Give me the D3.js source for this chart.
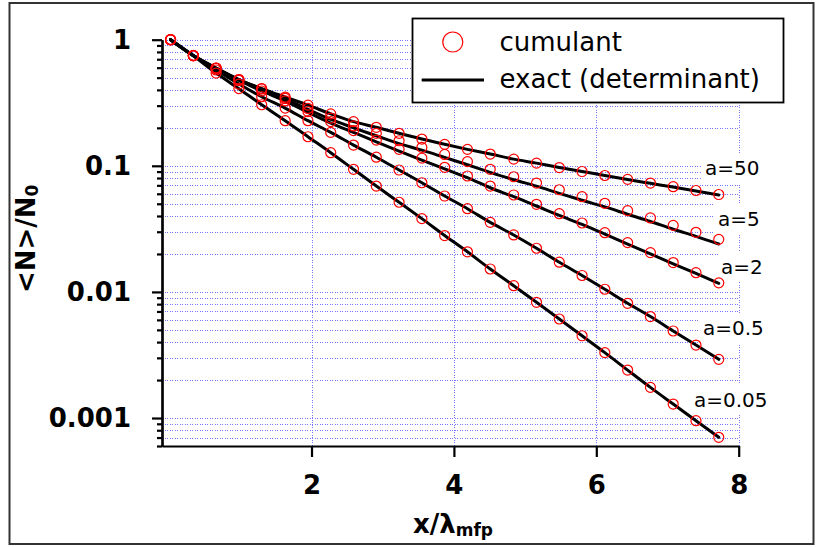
<!DOCTYPE html>
<html>
<head>
<meta charset="utf-8">
<script src="https://cdn.jsdelivr.net/npm/d3@7"></script>
<style>
  html, body { margin: 0; padding: 0; background: #fff; }
  svg { display: block; font-family: "DejaVu Sans", Verdana, sans-serif; }
</style>
</head>
<body>
<svg id="chart" width="816" height="547"></svg>
<script>
// Distance in units of the mean free path
const xs = [0.02, 0.34, 0.66, 0.98, 1.30, 1.63, 1.95, 2.27, 2.59, 2.91, 3.23, 3.55, 3.87,
            4.19, 4.51, 4.84, 5.16, 5.48, 5.80, 6.12, 6.44, 6.76, 7.08, 7.40, 7.72];

// Series names (parameter a)
const seriesNames = ["a=50", "a=5", "a=2", "a=0.5", "a=0.05"];

// <N>/N0 from the cumulant expansion
const cumA50  = [1, 0.750, 0.596, 0.483, 0.410, 0.351, 0.303, 0.258, 0.224, 0.202, 0.181, 0.163, 0.148,
                 0.135, 0.124, 0.113, 0.105, 0.0969, 0.0901, 0.0838, 0.0781, 0.0730, 0.0683, 0.0637, 0.0592];
const cumA5   = [1, 0.749, 0.596, 0.483, 0.407, 0.342, 0.285, 0.239, 0.207, 0.181, 0.158, 0.140, 0.123,
                 0.108, 0.0938, 0.0819, 0.0730, 0.0646, 0.0569, 0.0504, 0.0441, 0.0386, 0.0337, 0.0297, 0.0261];
const cumA2   = [1, 0.748, 0.591, 0.475, 0.392, 0.327, 0.269, 0.224, 0.190, 0.160, 0.135, 0.115, 0.0973,
                 0.0830, 0.0691, 0.0587, 0.0495, 0.0417, 0.0352, 0.0295, 0.0246, 0.0205, 0.0171, 0.0142, 0.0118];
const cumA05  = [1, 0.746, 0.575, 0.445, 0.353, 0.287, 0.228, 0.184, 0.146, 0.117, 0.0926, 0.0734, 0.0576,
                 0.0457, 0.0356, 0.0283, 0.0222, 0.0172, 0.0135, 0.0105, 0.00812, 0.00638, 0.00490, 0.00379, 0.00292];
const cumA005 = [1, 0.746, 0.544, 0.409, 0.305, 0.228, 0.170, 0.127, 0.0938, 0.0691, 0.0514, 0.0381, 0.0280,
                 0.0208, 0.0152, 0.0112, 0.00827, 0.00610, 0.00449, 0.00330, 0.00240, 0.00175, 0.00129, 0.000952, 0.000703];

// <N>/N0 from the exact determinant evaluation
const exactA50  = [1, 0.750, 0.596, 0.483, 0.410, 0.351, 0.303, 0.258, 0.224, 0.202, 0.181, 0.163, 0.148,
                   0.135, 0.124, 0.113, 0.105, 0.0969, 0.0901, 0.0838, 0.0778, 0.0726, 0.0678, 0.0632, 0.0587];
const exactA5   = [1, 0.749, 0.596, 0.483, 0.407, 0.340, 0.280, 0.233, 0.200, 0.173, 0.150, 0.133, 0.1165,
                   0.102, 0.0888, 0.0776, 0.0690, 0.0605, 0.0533, 0.0472, 0.0413, 0.0362, 0.0314, 0.0276, 0.0240];
const exactA2   = [1, 0.748, 0.591, 0.475, 0.392, 0.326, 0.265, 0.218, 0.184, 0.155, 0.131, 0.111, 0.0944,
                   0.0805, 0.0670, 0.0569, 0.0480, 0.0404, 0.0343, 0.0287, 0.0239, 0.0200, 0.0167, 0.0140, 0.0117];
const exactA05  = cumA05.slice();
const exactA005 = cumA005.slice();

// Axis ticks
const xTicks = [2, 4, 6, 8];
const xTickLabels = ["2", "4", "6", "8"];
const yMajor = [0.001, 0.01, 0.1, 1];
const yTickLabels = ["0.001", "0.01", "0.1", "1"];

// ---- layout ----
const xDomain = [-0.1, 8];
const yDomain = [0.0006, 1];
const plot = { left: 162, right: 738.7, top: 39.7, bottom: 446 };
const labelAnchors = [[705, 175], [718, 226], [721, 274], [703, 335], [694, 407]];

const cumulant = [cumA50, cumA5, cumA2, cumA05, cumA005];
const exact = [exactA50, exactA5, exactA2, exactA05, exactA005];

const svg = d3.select("#chart");

const x = d3.scaleLinear().domain(xDomain).range([plot.left, plot.right]);
const y = d3.scaleLog().domain(yDomain).range([plot.bottom, plot.top]);

// outer frame
svg.append("rect")
  .attr("x", 9.5).attr("y", 3).attr("width", 804).attr("height", 541)
  .attr("fill", "none").attr("stroke", "#333").attr("stroke-width", 2);

// dotted grid
const grid = svg.append("g")
  .attr("stroke", "#7474ff").attr("stroke-width", 1)
  .attr("stroke-dasharray", "1,1.5").attr("shape-rendering", "crispEdges");
grid.selectAll("line.h").data(y.ticks()).join("line")
  .attr("class", "h")
  .attr("x1", plot.left).attr("x2", plot.right)
  .attr("y1", d => Math.round(y(d)) + 0.5).attr("y2", d => Math.round(y(d)) + 0.5);
grid.selectAll("line.v").data(xTicks).join("line")
  .attr("class", "v")
  .attr("y1", plot.top).attr("y2", plot.bottom)
  .attr("x1", d => Math.round(x(d)) + 0.5).attr("x2", d => Math.round(x(d)) + 0.5);

// curve labels on white boxes
const labels = svg.append("g").attr("font-size", 20).attr("fill", "#000");
seriesNames.forEach((name, i) => {
  const g = labels.append("g");
  const t = g.append("text").attr("x", labelAnchors[i][0]).attr("y", labelAnchors[i][1]).text(name);
  const bb = t.node().getBBox();
  g.insert("rect", "text")
    .attr("x", bb.x - 3).attr("y", bb.y - 3)
    .attr("width", bb.width + 6).attr("height", bb.height + 6)
    .attr("fill", "#fff");
});

// axes
const isMajor = d => Math.abs(Math.log10(d) - Math.round(Math.log10(d))) < 1e-6;
const yMinor = y.ticks().filter(d => !isMajor(d));

const gYMinor = svg.append("g").attr("transform", `translate(${plot.left},0)`)
  .call(d3.axisLeft(y).tickValues(yMinor).tickSize(5).tickSizeOuter(0).tickFormat(""));
const gY = svg.append("g").attr("transform", `translate(${plot.left},0)`)
  .call(d3.axisLeft(y).tickValues(yMajor).tickSize(10).tickSizeOuter(0).tickPadding(21)
    .tickFormat(d => yTickLabels[yMajor.indexOf(d)]));
const gX = svg.append("g").attr("transform", `translate(0,${plot.bottom})`)
  .call(d3.axisBottom(x).tickValues(xTicks).tickSize(11).tickSizeOuter(0).tickPadding(19)
    .tickFormat(d => xTickLabels[xTicks.indexOf(d)]));

[gYMinor, gY, gX].forEach(g => {
  g.selectAll("path.domain").attr("stroke", "#000").attr("stroke-width", 2.2);
  g.selectAll(".tick line").attr("stroke", "#000").attr("stroke-width", 2.2);
  g.selectAll(".tick text")
    .attr("fill", "#000")
    .attr("font-family", '"DejaVu Sans", Verdana, sans-serif')
    .attr("font-size", 26).attr("font-weight", "bold");
});

// exact curves
const line = d3.line()
  .x((d, i) => x(xs[i]))
  .y(d => y(d))
  .curve(d3.curveMonotoneX);
svg.append("g").selectAll("path").data(exact).join("path")
  .attr("d", line)
  .attr("fill", "none").attr("stroke", "#000").attr("stroke-width", 3)
  .attr("stroke-linecap", "round").attr("stroke-linejoin", "round");

// cumulant markers
const marks = svg.append("g").attr("fill", "none").attr("stroke", "#ff0000").attr("stroke-width", 1.2);
cumulant.forEach(vals => {
  marks.append("g").selectAll("circle").data(vals).join("circle")
    .attr("cx", (d, i) => x(xs[i]))
    .attr("cy", d => y(d))
    .attr("r", 5);
});

// legend
const legend = svg.append("g");
legend.append("rect")
  .attr("x", 412.5).attr("y", 18.5).attr("width", 371).attr("height", 84)
  .attr("fill", "#fff").attr("stroke", "#000").attr("stroke-width", 1.8);
legend.append("circle")
  .attr("cx", 452.8).attr("cy", 42).attr("r", 10)
  .attr("fill", "none").attr("stroke", "#ff0000").attr("stroke-width", 1.2);
legend.append("text").attr("x", 499.5).attr("y", 50.5).attr("font-size", 26).text("cumulant");
legend.append("line")
  .attr("x1", 421.7).attr("x2", 484).attr("y1", 80).attr("y2", 80)
  .attr("stroke", "#000").attr("stroke-width", 3);
legend.append("text").attr("x", 499.5).attr("y", 88).attr("font-size", 26).text("exact (determinant)");

// axis titles
const xt = svg.append("text").attr("x", 413).attr("y", 533)
  .attr("font-size", 26).attr("font-weight", "bold");
xt.append("tspan").text("x/λ");
xt.append("tspan").attr("font-size", 17).attr("dy", 3).text("mfp");

const yt = svg.append("text").attr("transform", "translate(35,293) rotate(-90)")
  .attr("font-size", 26).attr("font-weight", "bold");
yt.append("tspan").text("<N>/N");
yt.append("tspan").attr("font-size", 17).attr("dy", 3).text("0");
</script>
</body>
</html>
